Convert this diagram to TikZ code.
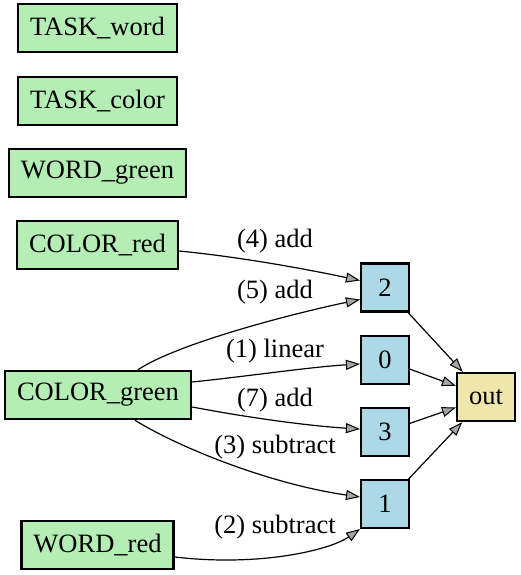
\documentclass[tikz,border=0pt]{standalone}
\usepackage{fontspec}
\setmainfont{Liberation Serif}
\usetikzlibrary{arrows.meta,calc}
\definecolor{inpfill}{RGB}{180,238,180}
\definecolor{opfill}{RGB}{173,216,230}
\definecolor{outfill}{RGB}{238,230,170}
\begin{document}
\begin{tikzpicture}[x=1pt,y=1pt,
  base/.style={draw=black,rectangle,inner xsep=12pt,inner ysep=0pt,
    minimum height=48pt,font=\rmfamily\fontsize{26.5pt}{30pt}\selectfont},
  inp/.style={base,fill=inpfill,line width=2.6pt},
  opnode/.style={base,fill=opfill,line width=2.1pt,minimum width=48pt},
  outnode/.style={base,fill=outfill,line width=2.3pt},
  elabel/.style={inner sep=0pt,font=\rmfamily\fontsize{26.5pt}{30pt}\selectfont},
  edge/.style={line width=1.2pt,
    -{Triangle[length=14pt,width=10pt,fill=black!35,line width=1pt]}}]
\useasboundingbox (0,0) rectangle (520,-575);

% input nodes
\node[inp] (tw) at (97.5,-28)  {TASK\_word};
\node[inp] (tc) at (97.5,-101) {TASK\_color};
\node[inp] (wg) at (97.5,-173) {WORD\_green};
\node[inp] (cr) at (97.5,-245) {COLOR\_red};
\node[inp] (cg) at (98,-395)   {COLOR\_green};
\node[inp] (wr) at (97.5,-545) {WORD\_red};

% operation nodes
\node[opnode] (n2) at (385,-287.5) {2};
\node[opnode] (n0) at (385,-360)   {0};
\node[opnode] (n3) at (385,-432)   {3};
\node[opnode] (n1) at (385,-504)   {1};

% output node
\node[outnode] (out) at (486,-397) {out};

% weighted connections
\draw[edge] ($(cr.east)+(0,-6)$) .. controls (250,-258) and (320,-272) .. ($(n2.west)+(0,7)$);
\draw[edge] ($(cg.north)+(40,0)$) .. controls (180,-342) and (300,-312) .. ($(n2.west)+(0,-12)$);
\draw[edge] ($(cg.east)+(0,13)$) .. controls (250,-376) and (310,-367) .. ($(n0.west)+(0,-4)$);
\draw[edge] ($(cg.east)+(0,-12)$) .. controls (250,-418) and (310,-426) .. ($(n3.west)+(0,3)$);
\draw[edge] ($(cg.south)+(37,0)$) .. controls (180,-448) and (270,-484) .. ($(n1.west)+(0,7)$);
\draw[edge] ($(wr.east)+(0,-12)$) .. controls (260,-567) and (330,-550) .. (n1.south west);

\draw[edge] (n2) -- (out);
\draw[edge] (n0) -- (out);
\draw[edge] (n3) -- (out);
\draw[edge] (n1) -- (out);

% connection labels
\node[elabel] (l4) at (275,-241) {(4) add};
\node[elabel] (l5) at (275,-292) {(5) add};
\node[elabel] (l1) at (275,-351) {(1) linear};
\node[elabel] (l7) at (275,-400) {(7) add};
\node[elabel] (l3) at (275,-447) {(3) subtract};
\node[elabel] (l2) at (275,-527) {(2) subtract};
\end{tikzpicture}
\end{document}
